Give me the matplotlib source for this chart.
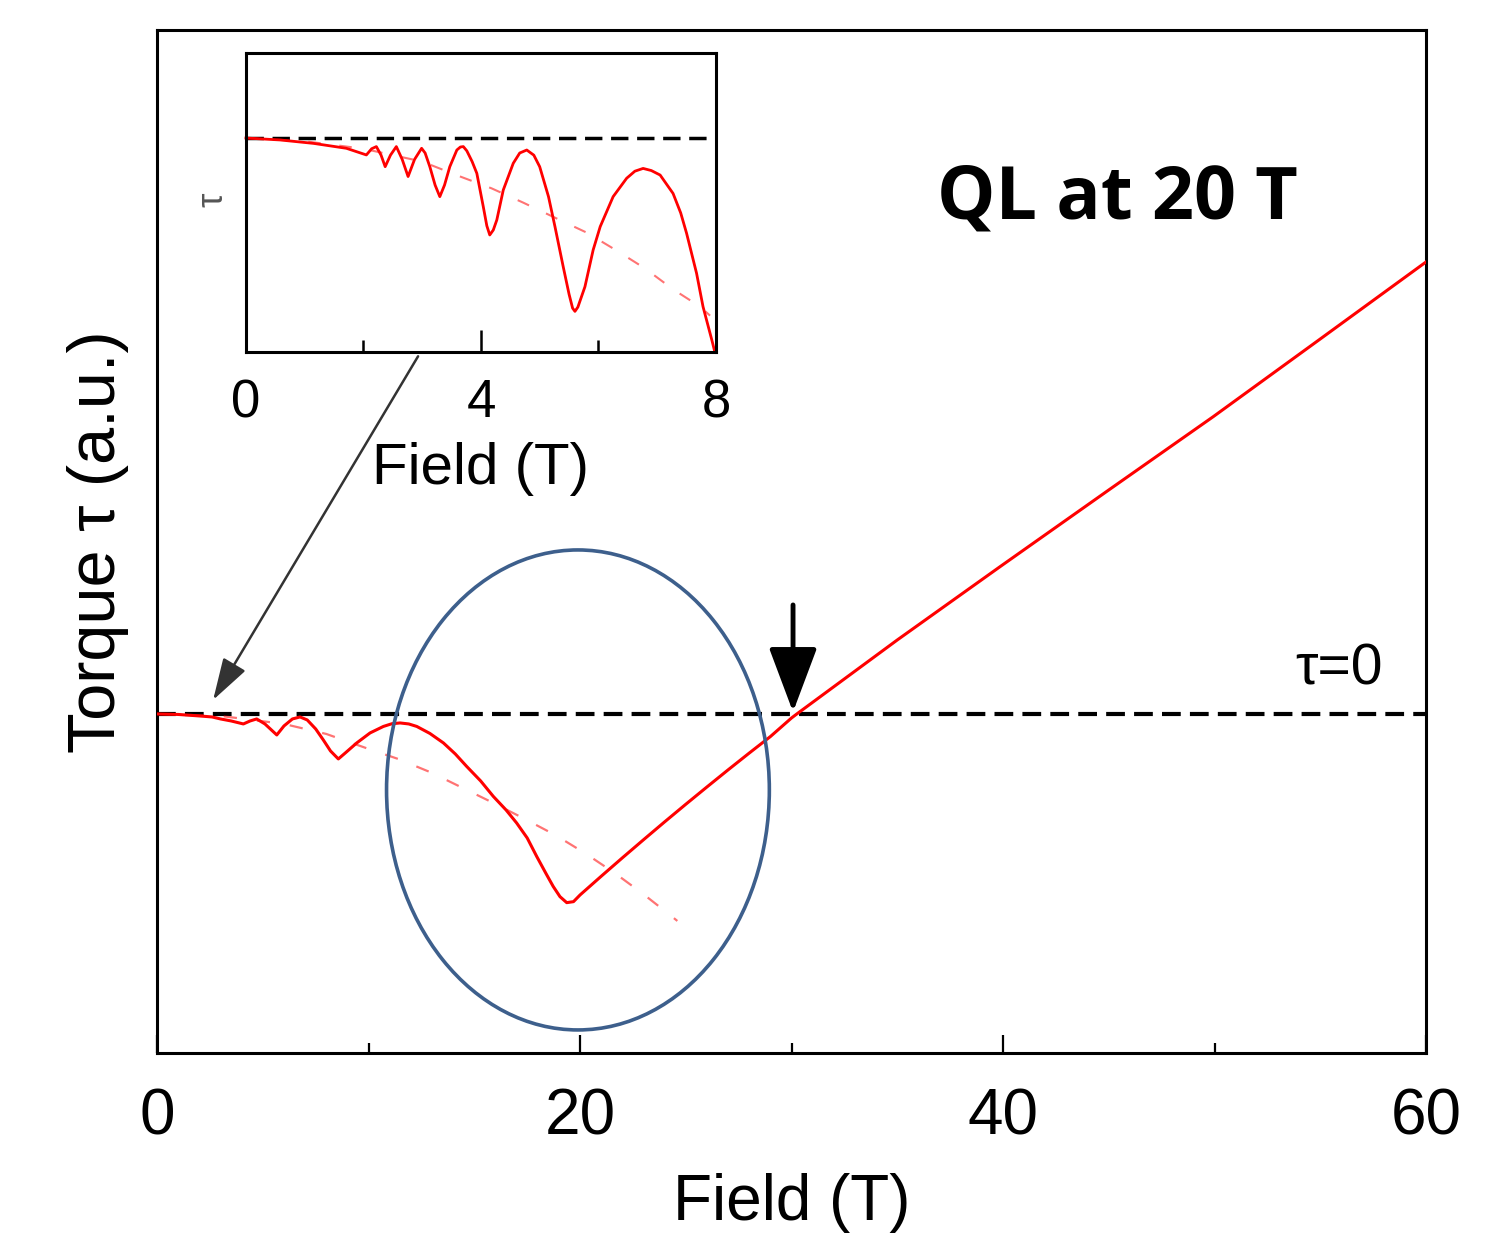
import matplotlib.pyplot as plt
from matplotlib.patches import Ellipse
from matplotlib.ticker import FixedLocator

# main torque curve (field in T, torque in a.u., tau=0 at 0)
field = [0, 1, 2, 2.6, 3.0, 3.5, 4.08, 4.4, 4.71, 5.1, 5.66, 6.0, 6.4, 6.76, 7.1,
         7.5, 7.86, 8.2, 8.57, 8.9, 9.44, 10.07, 10.7, 11.1, 11.49, 11.9, 12.28,
         12.9, 13.54, 14.1, 14.64, 15.3, 15.9, 16.5, 17.0, 17.5, 17.95, 18.4,
         18.73, 19.05, 19.37, 19.69, 20.0, 21, 22, 23, 24, 25, 26, 27, 28, 29,
         30, 30.25, 35, 39.86, 45, 49.94, 55, 60]
torque = [0, -0.005, -0.02, -0.03, -0.05, -0.07, -0.10, -0.07, -0.05, -0.10, -0.21,
          -0.12, -0.05, -0.03, -0.06, -0.15, -0.26, -0.37, -0.45, -0.39, -0.29,
          -0.19, -0.125, -0.098, -0.09, -0.1, -0.125, -0.195, -0.29, -0.40,
          -0.525, -0.67, -0.825, -0.96, -1.09, -1.24, -1.425, -1.6, -1.725,
          -1.827, -1.887, -1.877, -1.81, -1.623, -1.439, -1.258, -1.079, -0.903,
          -0.73, -0.559, -0.391, -0.226, -0.04, 0, 0.74, 1.473, 2.24, 2.973,
          3.75, 4.52]

# non-oscillating background (dashed red)
bg_field = [0, 3, 6, 8, 9.91, 11.4, 12.95, 14.48, 15.9, 17.32, 18.82, 20.24,
            21.65, 22.92, 24.25, 24.6]
bg_torque = [0, -0.02, -0.1, -0.2, -0.343, -0.45, -0.585, -0.743, -0.89, -1.043,
             -1.21, -1.393, -1.593, -1.79, -2.01, -2.07]

# inset: low field part
in_field = [0, 0.58, 1.15, 1.71, 2.05, 2.14, 2.22, 2.30, 2.37, 2.46, 2.56, 2.66,
            2.76, 2.87, 2.99, 3.05, 3.13, 3.22, 3.30, 3.38, 3.47, 3.59, 3.65,
            3.70, 3.76, 3.85, 3.93, 4.04, 4.10, 4.15, 4.21, 4.27, 4.38, 4.55,
            4.66, 4.78, 4.90, 5.00, 5.15, 5.26, 5.40, 5.50, 5.56, 5.60, 5.65,
            5.77, 5.91, 6.03, 6.25, 6.48, 6.62, 6.76, 6.90, 7.05, 7.27, 7.40,
            7.50, 7.67, 7.78, 7.93, 7.98]
in_torque = [0, -0.009, -0.025, -0.048, -0.079, -0.05, -0.04, -0.08, -0.134, -0.08,
             -0.04, -0.1, -0.18, -0.1, -0.048, -0.07, -0.134, -0.22, -0.274, -0.22,
             -0.134, -0.056, -0.042, -0.04, -0.06, -0.11, -0.165, -0.321, -0.41,
             -0.453, -0.43, -0.383, -0.243, -0.118, -0.07, -0.056, -0.08, -0.134,
             -0.274, -0.414, -0.601, -0.73, -0.795, -0.81, -0.79, -0.695, -0.523,
             -0.414, -0.274, -0.188, -0.155, -0.142, -0.152, -0.173, -0.259,
             -0.35, -0.445, -0.632, -0.788, -0.944, -0.999]
in_bg_field = [0, 1, 2, 3, 3.58, 4.18, 4.72, 5.32, 5.80, 6.31, 6.79, 7.27, 7.73, 7.9]
in_bg_torque = [0, -0.015, -0.05, -0.11, -0.173, -0.235, -0.302, -0.38, -0.442,
                -0.526, -0.609, -0.707, -0.788, -0.83]

main_ticks = [0, 20, 40, 60]
main_minor = [10, 30, 50]
inset_ticks = [0, 4, 8]
inset_minor = [2, 6]

plt.rcParams['font.family'] = ['Liberation Sans', 'DejaVu Sans']

fig = plt.figure(figsize=(15.06, 12.43), dpi=100)
ax = fig.add_axes([0.1043, 0.1529, 0.8426, 0.8230])
axin = fig.add_axes([0.1633, 0.7168, 0.3121, 0.2405])

# ---- main panel
ax.axhline(0, color='black', lw=3, ls=(0, (4.5, 2.2)), zorder=2)
ax.plot(bg_field, bg_torque, color='red', alpha=0.55, lw=1.6, ls=(0, (6, 9)), zorder=3)
ax.plot(field, torque, color='red', lw=2.2, zorder=4)
ax.add_patch(Ellipse((19.9, -0.76), 18.1, 4.8, fill=False, ec='#3d5f8c', lw=2.6, zorder=5))

ax.set_xlim(0, 60)
ax.set_ylim(-3.39, 6.84)
ax.set_yticks([])
ax.set_xticks(main_ticks)
ax.xaxis.set_minor_locator(FixedLocator(main_minor))
ax.tick_params(axis='x', which='major', direction='in', length=13, width=1.6,
               labelsize=46, pad=25)
ax.tick_params(axis='x', which='minor', direction='in', length=7, width=1.6)
for s in ax.spines.values():
    s.set_linewidth(2.2)
ax.set_xlabel('Field (T)', fontsize=46, labelpad=18)
ax.set_ylabel('Torque τ (a.u.)', fontsize=48, labelpad=20)

ax.text(55.9, 0.44, 'τ=0', fontsize=41, ha='center', va='center')
ax.text(45.4, 5.14, 'QL at 20 T', fontsize=53, fontweight='bold',
        family=['Open Sans', 'DejaVu Sans'], ha='center', va='center')

# arrow marking tau=0 crossing
ax.annotate('', xy=(30.07, 0.02), xytext=(30.07, 1.09),
            arrowprops=dict(arrowstyle='-|>,head_length=4,head_width=1.5',
                            mutation_scale=10, color='black', lw=3.5,
                            shrinkA=0, shrinkB=0), zorder=6)

# ---- inset
axin.axhline(0, color='black', lw=2.5, ls=(0, (5, 2.5)))
axin.plot(in_bg_field, in_bg_torque, color='red', alpha=0.55, lw=1.5, ls=(0, (6, 9)))
axin.plot(in_field, in_torque, color='red', lw=2, clip_on=False)
axin.set_xlim(0, 8)
axin.set_ylim(-1.0, 0.397)
axin.set_yticks([])
axin.set_xticks(inset_ticks)
axin.xaxis.set_minor_locator(FixedLocator(inset_minor))
axin.tick_params(axis='x', which='major', direction='in', length=16, width=1.8,
                 labelsize=38, pad=19)
axin.tick_params(axis='x', which='minor', direction='in', length=9, width=1.8)
for s in axin.spines.values():
    s.set_linewidth(2.2)
axin.set_xlabel('Field (T)', fontsize=42, labelpad=10)
fig.text(213 / 1506, 1 - 200 / 1243, 'τ', rotation=90, fontsize=26, color='#555555',
         ha='center', va='center')

# arrow from the inset to the low field region
ax.annotate('', xy=(2.65, 0.14), xytext=(2.93, -1.02), textcoords=axin.transData,
            arrowprops=dict(arrowstyle='-|>,head_length=2.6,head_width=0.8',
                            mutation_scale=10, color='#333333', lw=1.8,
                            shrinkA=0, shrinkB=0), zorder=6)

fig.savefig('out.png', dpi=100)
